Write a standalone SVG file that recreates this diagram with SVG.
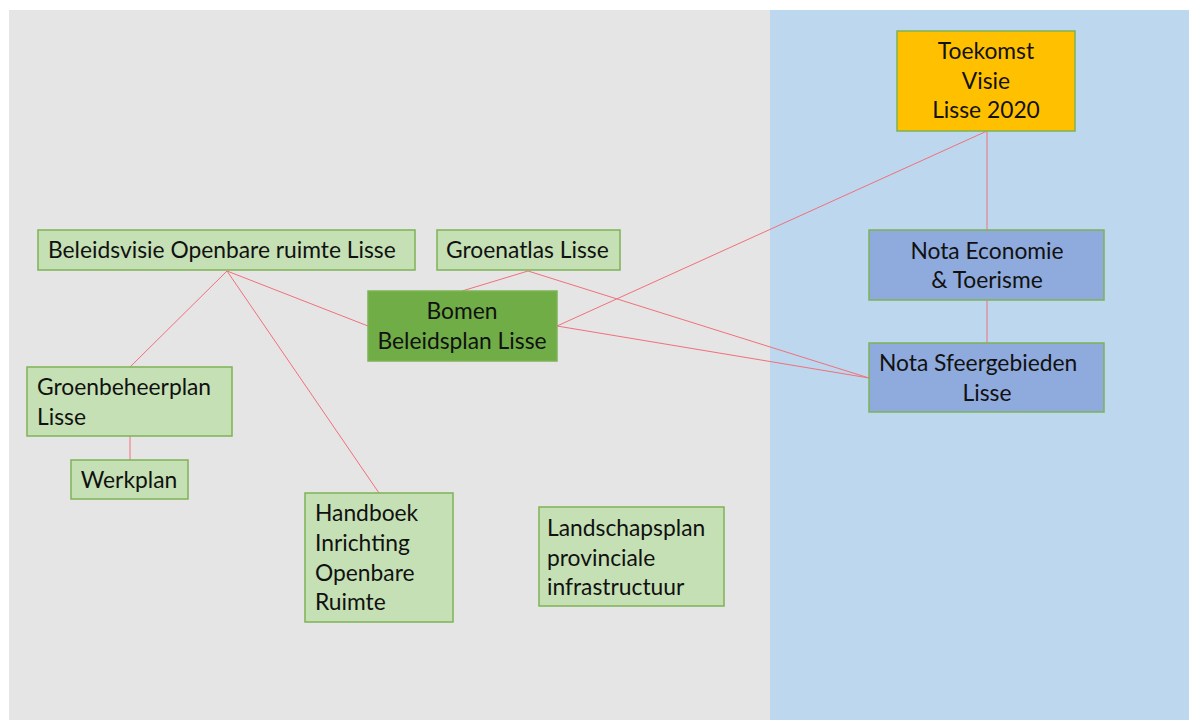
<svg xmlns="http://www.w3.org/2000/svg" width="1189" height="720" viewBox="0 0 1189 720">
<style>
.box{stroke:#7DB356;stroke-width:1.5}
.lg{fill:#C5E0B4}
.dg{fill:#70AD47}
.bl{fill:#8FAADC}
.or{fill:#FFC000}
text{font-family:Lato,"Liberation Sans",sans-serif;font-size:22.8px;fill:#111}
.c{text-anchor:middle}
#connectors line{stroke:#F0707A;stroke-width:1}
</style>
<rect x="0" y="0" width="1189" height="720" fill="#FFFFFF"/>
<rect x="9" y="10" width="761" height="710" fill="#E5E5E5"/>
<rect x="770" y="10" width="419" height="710" fill="#BDD7EE"/>
<g id="connectors">
<line x1="987" y1="131" x2="987" y2="230"/>
<line x1="987" y1="131" x2="557" y2="326"/>
<line x1="987" y1="300" x2="987" y2="343"/>
<line x1="227" y1="271" x2="130" y2="367"/>
<line x1="227" y1="271" x2="379" y2="493"/>
<line x1="227" y1="271" x2="368" y2="326"/>
<line x1="528" y1="271" x2="462" y2="291"/>
<line x1="528" y1="271" x2="869" y2="378"/>
<line x1="557" y1="326" x2="869" y2="378"/>
<line x1="130" y1="436" x2="130" y2="460"/>
</g>
<g id="toekomst">
<rect class="box or" x="897" y="31" width="178" height="100"/>
<text class="c" x="986" y="59">Toekomst</text>
<text class="c" x="986" y="89">Visie</text>
<text class="c" x="986" y="118">Lisse 2020</text>
</g>
<g id="beleidsvisie">
<rect class="box lg" x="38" y="230" width="377" height="40"/>
<text x="48" y="258">Beleidsvisie Openbare ruimte Lisse</text>
</g>
<g id="groenatlas">
<rect class="box lg" x="437" y="230" width="183" height="40"/>
<text x="446" y="258">Groenatlas Lisse</text>
</g>
<g id="bomen">
<rect class="box dg" x="368" y="291" width="189" height="70"/>
<text class="c" x="462" y="319">Bomen</text>
<text class="c" x="462" y="349">Beleidsplan Lisse</text>
</g>
<g id="economie">
<rect class="box bl" x="869" y="230" width="235" height="70"/>
<text class="c" x="987" y="259">Nota Economie</text>
<text class="c" x="987" y="288">&amp; Toerisme</text>
</g>
<g id="sfeergebieden">
<rect class="box bl" x="869" y="343" width="235" height="69"/>
<text x="879" y="371">Nota Sfeergebieden</text>
<text class="c" x="987" y="401">Lisse</text>
</g>
<g id="groenbeheerplan">
<rect class="box lg" x="27" y="367" width="205" height="69"/>
<text x="37" y="395">Groenbeheerplan</text>
<text x="37" y="425">Lisse</text>
</g>
<g id="werkplan">
<rect class="box lg" x="71" y="460" width="117" height="39"/>
<text class="c" x="129" y="488">Werkplan</text>
</g>
<g id="handboek">
<rect class="box lg" x="305" y="493" width="148" height="129"/>
<text x="315" y="521">Handboek</text>
<text x="315" y="551">Inrichting</text>
<text x="315" y="581">Openbare</text>
<text x="315" y="610">Ruimte</text>
</g>
<g id="landschapsplan">
<rect class="box lg" x="539" y="507" width="185" height="99"/>
<text x="547" y="536">Landschapsplan</text>
<text x="547" y="566">provinciale</text>
<text x="547" y="595">infrastructuur</text>
</g>
</svg>
